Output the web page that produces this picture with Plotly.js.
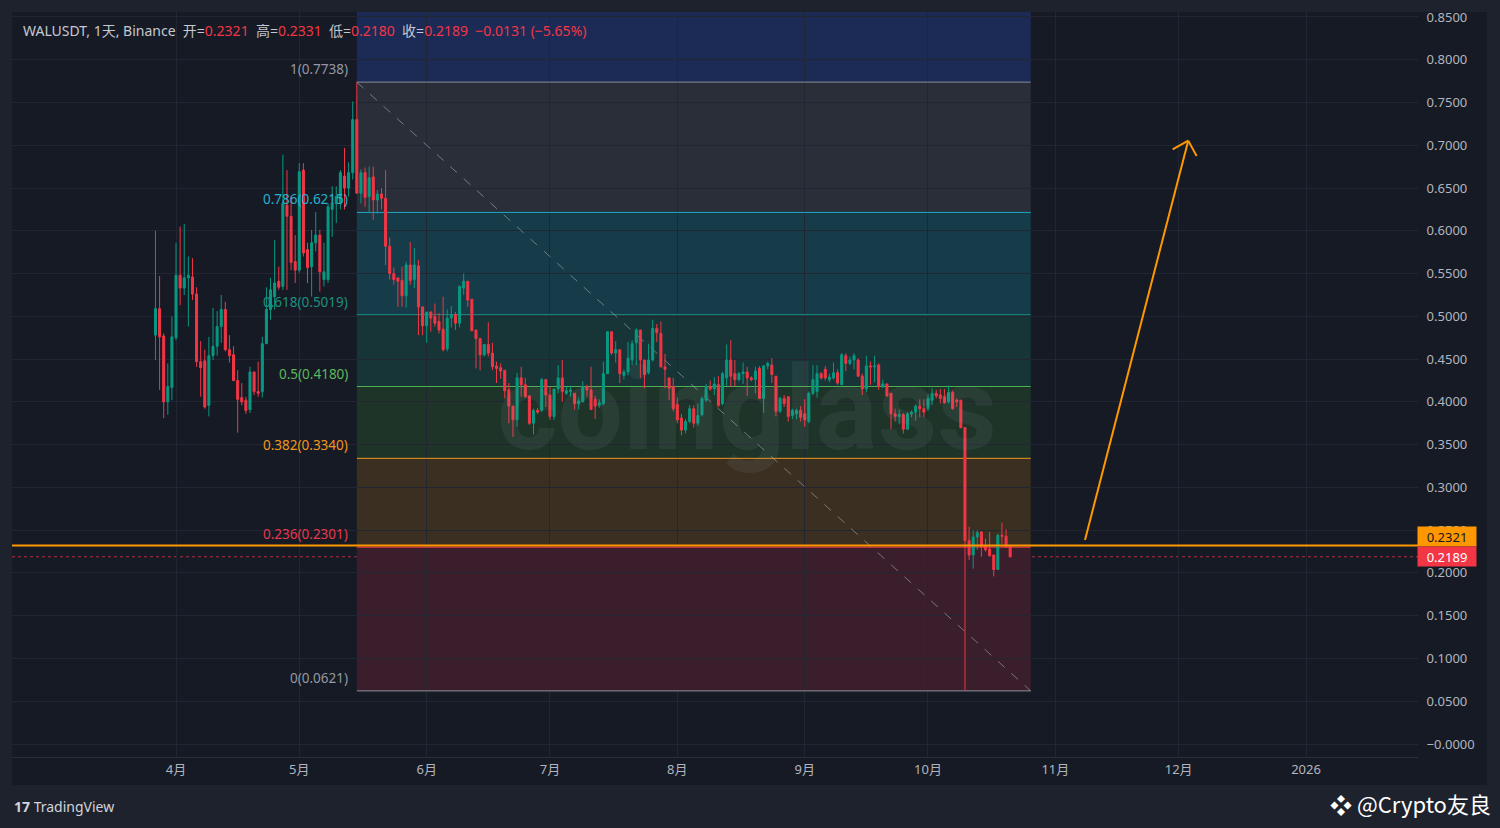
<!DOCTYPE html>
<html><head><meta charset="utf-8">
<script src="https://cdn.plot.ly/plotly-3.0.1.min.js"></script>
<style>html,body{margin:0;padding:0;background:#1e222d;}#chart{width:1500px;height:828px;}</style>
</head><body><div id="chart"></div>
<script>
// ---------- data (daily WALUSDT candles) ----------
const startDate = '2025-03-27';
const openP = [.478,.509,.477,.400,.417,.475,.548,.533,.545,.546,.526,.447,.448,.396,.454,.465,.488,.508,.461,.455,
.425,.405,.402,.391,.435,.412,.412,.468,.508,.523,.541,.535,.630,.617,.564,.554,.671,.578,.558,.586,
.595,.543,.543,.625,.632,.632,.664,.650,.668,.730,.644,.668,.640,.663,.636,.643,.638,.582,.550,.545,
.542,.524,.560,.543,.559,.511,.489,.505,.500,.494,.485,.462,.498,.502,.492,.533,.541,.520,.484,.474,
.455,.467,.457,.442,.440,.437,.414,.395,.379,.428,.420,.407,.375,.390,.390,.426,.408,.383,.415,.428,
.410,.412,.410,.398,.400,.418,.414,.403,.396,.398,.433,.482,.457,.461,.431,.435,.449,.469,.484,.449,
.434,.449,.486,.480,.441,.428,.418,.397,.381,.367,.377,.392,.375,.385,.402,.418,.415,.420,.398,.428,
.449,.433,.426,.433,.435,.428,.426,.439,.404,.442,.443,.430,.389,.404,.406,.384,.386,.390,.386,.377,
.410,.412,.433,.438,.426,.428,.434,.420,.454,.445,.449,.449,.430,.415,.442,.441,.443,.418,.421,.410,
.386,.383,.385,.368,.386,.388,.395,.392,.392,.402,.410,.408,.406,.400,.411,.402,.402,.370,.238,.221,
.242,.248,.232,.228,.221,.204,.244,.243,.2321];
const highP = [.600,.547,.480,.445,.500,.586,.605,.608,.570,.568,.534,.471,.461,.476,.510,.506,.525,.517,.478,.465,
.437,.422,.406,.441,.435,.447,.476,.534,.545,.589,.558,.689,.671,.640,.595,.679,.679,.586,.601,.622,
.601,.586,.632,.652,.652,.671,.697,.680,.751,.7738,.672,.674,.675,.675,.648,.650,.671,.592,.557,.545,
.558,.564,.587,.580,.566,.511,.505,.506,.515,.504,.523,.508,.512,.505,.536,.550,.541,.520,.484,.474,
.467,.493,.469,.447,.445,.437,.422,.395,.434,.441,.428,.407,.392,.393,.428,.426,.418,.415,.443,.449,
.418,.419,.410,.405,.424,.420,.441,.407,.403,.447,.482,.482,.471,.461,.438,.470,.472,.486,.484,.449,
.468,.496,.491,.494,.456,.428,.428,.405,.386,.380,.396,.396,.398,.406,.421,.425,.429,.430,.435,.467,
.472,.449,.435,.446,.441,.430,.441,.442,.443,.447,.451,.430,.406,.408,.406,.392,.392,.395,.403,.412,
.443,.443,.435,.442,.433,.446,.438,.457,.457,.453,.457,.451,.433,.454,.447,.454,.445,.426,.421,.410,
.392,.391,.387,.388,.390,.397,.403,.403,.409,.416,.414,.415,.415,.419,.413,.404,.402,.370,.254,.250,
.250,.248,.240,.248,.221,.246,.259,.251,.2331];
const lowP = [.449,.414,.381,.385,.402,.472,.513,.525,.488,.519,.441,.406,.392,.383,.449,.454,.469,.459,.446,.424,
.364,.396,.386,.387,.408,.406,.405,.468,.496,.508,.531,.531,.531,.554,.539,.551,.570,.539,.523,.576,
.529,.535,.539,.593,.609,.625,.625,.640,.660,.644,.632,.628,.621,.613,.620,.625,.560,.543,.537,.511,
.511,.510,.537,.533,.478,.478,.469,.482,.488,.480,.459,.459,.487,.484,.487,.525,.511,.483,.439,.437,
.453,.453,.437,.422,.427,.404,.375,.359,.371,.406,.405,.373,.362,.386,.388,.394,.379,.379,.410,.400,
.408,.406,.391,.391,.400,.406,.391,.380,.393,.396,.433,.455,.446,.422,.426,.431,.443,.443,.428,.416,
.432,.447,.470,.440,.416,.402,.389,.375,.361,.363,.375,.370,.372,.383,.400,.413,.408,.394,.396,.419,
.418,.418,.424,.421,.407,.424,.410,.404,.387,.438,.422,.383,.387,.394,.377,.380,.380,.377,.371,.375,
.408,.405,.426,.425,.423,.426,.420,.420,.436,.443,.438,.429,.408,.411,.420,.423,.414,.416,.406,.368,
.377,.374,.363,.368,.382,.378,.382,.382,.389,.397,.404,.398,.398,.398,.391,.394,.369,.0621,.215,.205,
.227,.219,.225,.219,.196,.204,.234,.229,.2180];
const closeP = [.509,.476,.400,.418,.476,.548,.533,.545,.548,.526,.447,.440,.394,.454,.465,.488,.508,.461,.454,.425,
.403,.400,.390,.435,.412,.410,.468,.508,.531,.539,.534,.632,.617,.563,.554,.669,.574,.557,.586,.595,
.552,.552,.628,.632,.640,.668,.650,.668,.730,.644,.668,.639,.662,.636,.643,.638,.582,.550,.543,.541,
.524,.560,.542,.560,.511,.489,.505,.498,.492,.484,.461,.498,.502,.492,.535,.541,.519,.483,.474,.455,
.467,.457,.441,.439,.436,.413,.395,.379,.428,.420,.406,.375,.390,.388,.426,.408,.383,.415,.428,.412,
.413,.414,.398,.401,.418,.414,.391,.395,.399,.433,.482,.457,.461,.433,.435,.451,.468,.484,.449,.432,
.449,.486,.481,.441,.438,.416,.392,.379,.367,.377,.392,.375,.384,.404,.418,.415,.421,.396,.433,.449,
.430,.426,.433,.435,.428,.426,.436,.404,.442,.445,.432,.389,.404,.398,.383,.390,.390,.382,.379,.410,
.426,.433,.428,.428,.429,.434,.422,.455,.445,.449,.454,.430,.415,.442,.441,.442,.418,.421,.407,.386,
.383,.385,.368,.386,.388,.395,.392,.388,.404,.410,.407,.404,.399,.411,.392,.400,.370,.238,.221,.242,
.247,.231,.227,.220,.204,.244,.243,.231,.2189];

const monthTickDates = ['2025-04-01','2025-05-01','2025-06-01','2025-07-01','2025-08-01','2025-09-01','2025-10-01','2025-11-01','2025-12-01','2026-01-01'];
const monthTickLabels = ['4月','5月','6月','7月','8月','9月','10月','11月','12月','2026'];
const priceTickValues = [0,0.05,0.10,0.15,0.20,0.25,0.30,0.35,0.40,0.45,0.50,0.55,0.60,0.65,0.70,0.75,0.80,0.85];

// Fibonacci retracement drawing
const fibHigh = 0.7738, fibLow = 0.0621;
const fibStart = '2025-05-15', fibEnd = '2025-10-26';
const fibRatios = [1, 0.786, 0.618, 0.5, 0.382, 0.236, 0];
const fibLineColors = ['#8c8f99','#1fa9c6','#1a9384','#4caf50','#f0961c','#f23645','#8c8f99'];
const fibTextColors = ['#9598a1','#26b0cf','#1e8f7e','#5cb85c','#f0961c','#e8384a','#9598a1'];
const fibBandColors = ['#1c2a56','#2a2e39','#163b49','#173536','#1e3429','#3a2f21','#3b1e2b'];

const hLinePrice = 0.2321;
const lastPrice = 0.2189;
const arrowStart = ['2025-11-08 05:00', 0.2385];
const arrowTip = ['2025-12-03 08:00', 0.7054];
const arrowWingL = ['2025-11-29 13:00', 0.6953];
const arrowWingR = ['2025-12-05 09:00', 0.6875];

// ---------- build ----------
function addDays(s, n){ const d = new Date(s+'T00:00:00Z'); d.setUTCDate(d.getUTCDate()+n); return d.toISOString().slice(0,10); }
const dates = openP.map((_, i) => addDays(startDate, i));

const UP = '#089981', DOWN = '#f23645';
const trace = {
  type: 'candlestick', x: dates, open: openP, high: highP, low: lowP, close: closeP,
  increasing: {line: {color: UP, width: 1}, fillcolor: UP},
  decreasing: {line: {color: DOWN, width: 1}, fillcolor: DOWN},
  whiskerwidth: 0, hoverinfo: 'skip', showlegend: false
};

const W = 1500, H = 828, ML = 12, MR = 82, MT = 12, MB = 71;
const pw = W - ML - MR, ph = H - MT - MB;
const px = x => (x - ML) / pw;
const py = y => (H - MB - y) / ph;

const fibLevel = r => fibLow + r * (fibHigh - fibLow);
const shapes = [];
// panel background
shapes.push({type:'rect', xref:'paper', yref:'paper', x0:px(12), x1:px(1487), y0:py(785), y1:py(12), fillcolor:'#161a25', line:{width:0}, layer:'below'});
// fib bands
const bandEdges = [0.86].concat(fibRatios.map(fibLevel));
for (let i = 0; i < fibRatios.length; i++) {
  shapes.push({type:'rect', xref:'x', yref:'y', x0:fibStart, x1:fibEnd, y0:bandEdges[i+1], y1:bandEdges[i], fillcolor:fibBandColors[i], line:{width:0}, layer:'below'});
}
// fib lines
fibRatios.forEach((r, i) => {
  shapes.push({type:'line', xref:'x', yref:'y', x0:fibStart, x1:fibEnd, y0:fibLevel(r), y1:fibLevel(r), line:{color:fibLineColors[i], width:1}, layer:'between'});
});
// diagonal trend line
shapes.push({type:'line', xref:'x', yref:'y', x0:fibStart, y0:fibHigh, x1:fibEnd, y1:fibLow, line:{color:'rgba(170,172,180,0.6)', width:1, dash:'dash'}, layer:'between'});
// horizontal user line and last price line
shapes.push({type:'line', xref:'paper', yref:'y', x0:0, x1:1, y0:lastPrice, y1:lastPrice, line:{color:'rgba(242,54,69,0.75)', width:1, dash:'dot'}, layer:'between'});
shapes.push({type:'line', xref:'paper', yref:'y', x0:0, x1:1, y0:hLinePrice, y1:hLinePrice, line:{color:'#ff9800', width:2}, layer:'above'});
// arrow
const arrowLine = (a, b) => ({type:'line', xref:'x', yref:'y', x0:a[0], y0:a[1], x1:b[0], y1:b[1], line:{color:'#ff9800', width:2}, layer:'above'});
shapes.push(arrowLine(arrowStart, arrowTip));
shapes.push(arrowLine(arrowTip, arrowWingL));
shapes.push(arrowLine(arrowTip, arrowWingR));

const FONT = '"Noto Sans", "Noto Sans CJK SC", sans-serif';
const annotations = [];
fibRatios.forEach((r, i) => {
  const v = fibLevel(r);
  annotations.push({xref:'x', yref:'y', x:fibStart, y:v, xanchor:'right', yanchor:'middle', xshift:-7, yshift:13,
    text: r + '(' + (v + 1e-9).toFixed(4) + ')', showarrow:false, font:{family:FONT, size:13.5, color:fibTextColors[i]}});
});
// watermark
annotations.push({xref:'x', yref:'y', x:'2025-08-18', y:0.392, text:'coinglass', showarrow:false,
  font:{family:'Roboto, sans-serif', size:116, weight:'bold', color:'rgba(150,162,170,0.10)'}});
// header
const R = s => '<span style="color:#f23645">' + s + '</span>';
annotations.push({xref:'paper', yref:'paper', x:px(21), y:py(31), xanchor:'left', yanchor:'middle', showarrow:false,
  text:'WALUSDT, 1天, Binance  开=' + R('0.2321') + '  高=' + R('0.2331') + '  低=' + R('0.2180') + '  收=' + R('0.2189') + '  ' + R('−0.0131 (−5.65%)'),
  font:{family:FONT, size:14, color:'#c5c8d0'}});
// price labels
annotations.push({xref:'paper', yref:'y', x:1, y:hLinePrice, xanchor:'left', yanchor:'middle', yshift:9, xshift:-1, showarrow:false,
  text:hLinePrice.toFixed(4), bgcolor:'#ff9800', width:54, height:15, borderpad:2, font:{family:FONT, size:13, color:'#131722'}});
annotations.push({xref:'paper', yref:'y', x:1, y:lastPrice, xanchor:'left', yanchor:'middle', yshift:0, xshift:-1, showarrow:false,
  text:lastPrice.toFixed(4), bgcolor:'#f23645', width:54, height:15, borderpad:2, font:{family:FONT, size:13, color:'#ffffff'}});
// footer
annotations.push({xref:'paper', yref:'paper', x:px(12), y:py(807), xanchor:'left', yanchor:'middle', showarrow:false,
  text:'<b>17</b> TradingView', font:{family:FONT, size:14, color:'#d1d4dc'}});
annotations.push({xref:'paper', yref:'paper', x:px(1493), y:py(803), xanchor:'right', yanchor:'middle', showarrow:false,
  text:'❖ @Crypto友良', font:{family:'"Noto Sans CJK SC", "DejaVu Sans", sans-serif', size:22, color:'#ffffff'}});

const layout = {
  width: W, height: H,
  margin: {l:ML, r:MR, t:MT, b:MB, pad:0},
  paper_bgcolor: '#1e222d', plot_bgcolor: '#161a25',
  showlegend: false,
  xaxis: {type:'date', range:['2025-02-20 02:00','2026-01-28 06:00'], rangeslider:{visible:false},
    tickvals: monthTickDates, ticktext: monthTickLabels, ticks:'', showgrid:true, gridcolor:'#222633', gridwidth:1,
    zeroline:false, showline:true, linecolor:'#2a2e39', tickfont:{family:FONT, size:13, color:'#b2b5be'}, fixedrange:true},
  yaxis: {side:'right', range:[-0.0152, 0.8558], tickvals: priceTickValues,
    ticktext: priceTickValues.map(v => v === 0 ? '−0.0000' : v.toFixed(4)),
    ticks:'outside', ticklen:5, tickcolor:'rgba(0,0,0,0)', showgrid:true, gridcolor:'#222633', gridwidth:1,
    zeroline:false, showline:false, tickfont:{family:FONT, size:13, color:'#b2b5be'}, fixedrange:true},
  shapes: shapes,
  annotations: annotations
};
Plotly.newPlot('chart', [trace], layout, {staticPlot:true, displayModeBar:false});
</script>
</body></html>
